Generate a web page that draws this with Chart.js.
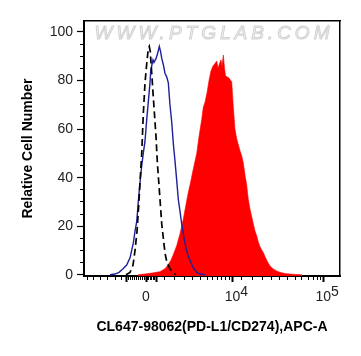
<!DOCTYPE html>
<html>
<head>
<meta charset="utf-8">
<script src="https://cdn.jsdelivr.net/npm/chart.js@4.4.0/dist/chart.umd.min.js"></script>
<style>
html,body{margin:0;padding:0;background:#fff;}
#wrap{width:361px;height:356px;}
</style>
</head>
<body>
<div id="wrap"><canvas id="c" width="361" height="356"></canvas></div>
<script>
// X values are in biexponential display units (decades): 4 = 10^4, 5 = 10^5
const isotypeX = [2.827,2.871,2.904,2.926,2.948,2.964,2.981,3.000,3.017,3.036,3.055,3.072,3.083,3.094,3.110,3.124,3.135,3.157,3.174,3.190,3.207,3.220,3.238,3.256,3.278,3.311,3.348,3.378];
const isotypeY = [0,1,4,10,18,27,38,50,66,79,87,93,94,92,83,75,69,57,45,37,28,21,15,9,5,2.5,0.8,0];

const controlX = [2.650,2.706,2.750,2.794,2.834,2.871,2.907,2.926,2.945,2.962,2.981,3.000,3.017,3.036,3.055,3.072,3.091,3.099,3.110,3.124,3.135,3.157,3.174,3.194,3.207,3.221,3.238,3.256,3.275,3.293,3.311,3.330,3.348,3.366,3.385,3.403,3.422,3.440,3.466,3.488,3.513,3.532,3.565,3.606,3.642,3.697];
const controlY = [0,0.3,1,2.5,4,7,13,18,22,30,38,45,50,55,64,71,79,84,86,88.5,87.5,89,91,94,92,89,86.5,83,81.5,79,70,63,54,47,39,31,26,21,15,11,7.5,6,3,1,0.3,0];

const stainedX = [2.959,3.036,3.091,3.146,3.201,3.256,3.289,3.322,3.355,3.385,3.422,3.458,3.488,3.513,3.532,3.565,3.606,3.631,3.661,3.678,3.697,3.719,3.741,3.763,3.785,3.807,3.826,3.840,3.857,3.873,3.884,3.899,3.912,3.923,3.939,3.961,3.991,4.009,4.027,4.046,4.061,4.083,4.101,4.119,4.138,4.156,4.174,4.193,4.211,4.229,4.248,4.267,4.284,4.303,4.325,4.341,4.358,4.377,4.397,4.413,4.449,4.490,4.534,4.578,4.633,4.699,4.765];
const stainedY = [0,0.3,0.6,0.9,1.3,2.5,4,6,9,12,17,23,29,34,37,43,50,57,64,69,71,75,80,84,86,87,88,85,87,88.5,86,90.5,85,82,81.5,81,79.5,69,60,56,54,51,49,46,41,37,31,27,24,21,18,16,13.5,11.5,10,9,7.5,6,4.6,3.6,2.4,1.5,0.9,0.5,0.3,0.15,0];

const xMajorTicks = [2.827, 3.047, 3.168, 4, 5];
// label: [exponent, base]; exponent '' means a plain label
const xMajorBases = ['', '0', '', '10', '10'];
const xMajorExponents = ['', '', '', '4', '5'];
const xMinorTicks = [2.408,2.474,2.551,2.628,2.706,2.772,2.849,2.871,2.893,2.915,2.937,2.959,2.981,3.003,3.025,3.064,3.080,3.097,3.113,3.130,3.146,3.256,3.366,3.466,3.554,3.642,3.719,3.785,3.840,3.884,3.928,3.967,4.104,4.215,4.325,4.424,4.523,4.611,4.699,4.765,4.832,4.887,4.931,4.969];
const yMajorTicks = [0,20,40,60,80,100];
const yMinorTicks = [5,10,15,25,30,35,45,50,55,65,70,75,85,90,95];

const xTitle = 'CL647-98062(PD-L1/CD274),APC-A';
const yTitle = 'Relative Cell Number';
const watermark = 'WWW.PTGLAB.COM';

const FONT = "'Liberation Sans', Arial, sans-serif";
const xAll = xMajorTicks.concat(xMinorTicks).sort((a,b)=>a-b);
const yAll = yMajorTicks.concat(yMinorTicks).sort((a,b)=>a-b);
const xMajorIndex = v => xMajorTicks.findIndex(m => Math.abs(m - v) < 1e-6);
const isYMajor = v => yMajorTicks.includes(v);
const pts = (xs, ys) => xs.map((x,i)=>({x:x, y:ys[i]}));

const watermarkPlugin = {
  id: 'watermark',
  beforeDatasetsDraw(chart) {
    const {ctx, chartArea} = chart;
    ctx.save();
    ctx.font = "italic 19px " + FONT;
    if ('letterSpacing' in ctx) ctx.letterSpacing = '4px';
    ctx.textAlign = 'center';
    ctx.textBaseline = 'middle';
    ctx.fillStyle = '#f5f5f5';
    ctx.strokeStyle = '#d2d2d2';
    ctx.lineWidth = 1;
    const cx = (chartArea.left + chartArea.right) / 2 + 2;
    const cy = chartArea.top + 13;
    ctx.fillText(watermark, cx, cy);
    ctx.strokeText(watermark, cx, cy);
    ctx.restore();
  }
};

new Chart(document.getElementById('c'), {
  type: 'line',
  data: {
    datasets: [
      { label: 'Isotype', data: pts(isotypeX, isotypeY), borderColor: '#000', borderWidth: 1.7, borderDash: [7,4], fill: false, pointRadius: 0, tension: 0, order: 1 },
      { label: 'Control', data: pts(controlX, controlY), borderColor: '#1f1f9a', borderWidth: 1.4, fill: false, pointRadius: 0, tension: 0, order: 2 },
      { label: 'PD-L1', data: pts(stainedX, stainedY), borderColor: '#ff0000', backgroundColor: '#ff0000', borderWidth: 0.6, fill: 'start', pointRadius: 0, tension: 0, order: 3 }
    ]
  },
  options: {
    responsive: false,
    animation: false,
    devicePixelRatio: 1,
    layout: { padding: { left: 0, top: 21, right: 21, bottom: 0 } },
    plugins: { legend: { display: false }, tooltip: { enabled: false } },
    scales: {
      x: {
        type: 'linear', position: 'bottom', min: 2.364, max: 5.184,
        afterBuildTicks: s => { s.ticks = xAll.map(v => ({value: v})); },
        afterFit: s => { s.height = 80; },
        ticks: {
          autoSkip: false, maxRotation: 0, minRotation: 0, padding: 7, color: '#222',
          font: c => {
            const i = c.tick ? xMajorIndex(c.tick.value) : -1;
            return (i >= 0 && xMajorExponents[i]) ? { family: FONT, size: 14, lineHeight: 0.4 } : { family: FONT, size: 14 };
          },
          callback: (v) => {
            const i = xMajorIndex(v);
            if (i < 0) return '';
            return xMajorExponents[i] ? ['      ' + xMajorExponents[i], xMajorBases[i]] : xMajorBases[i];
          }
        },
        grid: {
          drawOnChartArea: false, drawTicks: true, tickLength: 6, tickColor: '#000',
          tickWidth: c => (c.tick && xMajorIndex(c.tick.value) >= 0) ? 2 : 1,
          tickBorderDash: c => (c.tick && xMajorIndex(c.tick.value) >= 0) ? [] : [3, 100]
        },
        border: { display: true, color: '#000', width: 2 },
        title: { display: true, text: xTitle, color: '#000', font: { family: FONT, size: 14, weight: 'bold' }, padding: { top: 0, bottom: 20 } }
      },
      y: {
        type: 'linear', position: 'left', min: -0.5, max: 104.5,
        afterBuildTicks: s => { s.ticks = yAll.map(v => ({value: v})); },
        afterFit: s => { s.width = 84; },
        ticks: {
          autoSkip: false, padding: 4, color: '#222',
          font: { family: FONT, size: 14 },
          callback: v => isYMajor(v) ? String(v) : ''
        },
        grid: {
          drawOnChartArea: false, drawTicks: true, tickLength: 7, tickColor: '#000',
          tickWidth: 1.2,
          tickBorderDash: c => (c.tick && isYMajor(c.tick.value)) ? [] : [0, 3, 3, 100]
        },
        border: { display: true, color: '#000', width: 2 },
        title: { display: true, text: yTitle, color: '#000', font: { family: FONT, size: 14, weight: 'bold' }, padding: { top: 20, bottom: 0 } }
      },
      x2: {
        type: 'linear', position: 'top', min: 0, max: 1,
        afterFit: s => { s.height = 0; },
        ticks: { display: false },
        grid: { drawOnChartArea: false, drawTicks: false },
        border: { display: true, color: '#000', width: 1.5 }
      },
      y2: {
        type: 'linear', position: 'right', min: 0, max: 1,
        afterFit: s => { s.width = 0; },
        ticks: { display: false },
        grid: { drawOnChartArea: false, drawTicks: false },
        border: { display: true, color: '#000', width: 1.5 }
      }
    }
  },
  plugins: [watermarkPlugin]
});
</script>
</body>
</html>
